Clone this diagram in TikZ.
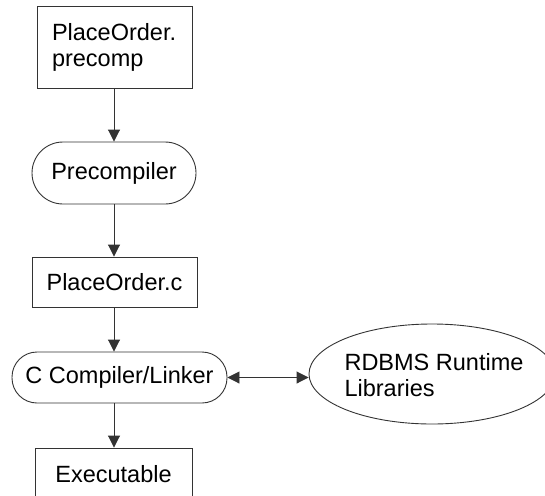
\documentclass[tikz,border=0pt]{standalone}
\usepackage{fontspec}
\setmainfont{Liberation Sans}
\usetikzlibrary{arrows.meta,shapes.geometric}
\begin{document}
\begin{tikzpicture}[x=1pt,y=-1pt,
  every node/.style={font=\fontsize{23.5}{26}\selectfont, inner sep=0pt},
  line/.style={draw=black!80, line width=0.9pt},
  filebox/.style={line, rectangle},
  procbox/.style={line, rectangle, rounded corners=25pt},
  flow/.style={line, -{Triangle[length=12pt,width=12pt]}},
  both/.style={line, {Triangle[length=12pt,width=12pt]}-{Triangle[length=12pt,width=12pt]}}]
  \useasboundingbox (0,0) rectangle (545,495);
  \clip (0,0) rectangle (545,495);

  % source file
  \node[filebox, minimum height=82pt, text width=125pt, inner xsep=15pt, align=left]
    (src) at (114.5,47) {PlaceOrder.\\precomp};
  % precompiler step
  \node[procbox, rounded corners=31pt, minimum width=164pt, minimum height=62pt]
    (pre) at (114,173) {Precompiler};
  % generated C source
  \node[filebox, minimum width=165pt, minimum height=50pt]
    (csrc) at (114.5,282) {PlaceOrder.c};
  % compiler and linker step
  \node[procbox, minimum width=215pt, minimum height=51pt]
    (cc) at (119.5,377.5) {C Compiler/Linker};
  % output
  \node[filebox, minimum width=157pt, minimum height=52pt]
    (exe) at (113.5,474) {Executable};
  % runtime libraries
  \node[line, ellipse, minimum width=246pt, minimum height=100pt]
    (rt) at (432,374) {};
  \node[align=left] (rtl) at (434,375) {RDBMS Runtime\\Libraries};

  \draw[flow] (src.south -| pre.north) -- (pre.north);
  \draw[flow] (pre.south) -- (pre.south |- csrc.north);
  \draw[flow] (pre.south |- csrc.south) -- (pre.south |- cc.north);
  \draw[flow] (pre.south |- cc.south) -- (pre.south |- exe.north);
  \draw[both] (cc.east) -- (cc.east -| rt.west);
\end{tikzpicture}
\end{document}
